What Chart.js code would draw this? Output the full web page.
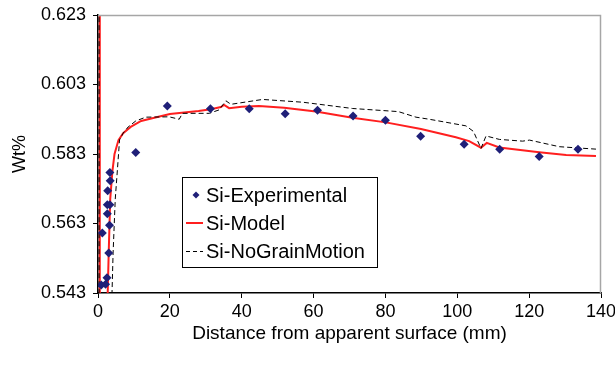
<!DOCTYPE html>
<html lang="en">
<head>
  <meta charset="UTF-8">
  <title>Si profile</title>
  <style>
    body { margin: 0; background: #fff; }
    #wrap { width: 615px; height: 366px; }
  </style>
</head>
<body>
  <div id="wrap">
    <canvas id="myChart" width="615" height="366"></canvas>
  </div>

  <script src="https://cdn.jsdelivr.net/npm/chart.js"></script>

  <script>
    // data
    const expX = [0.9, 2.1, 2.5, 3.0, 1.2, 3.2, 2.6, 2.6, 3.3, 2.7, 3.4, 3.3, 10.5, 19.3, 31.3, 42.1, 52.1, 61.1, 71.0, 80.0, 89.8, 101.9, 111.8, 122.8, 133.6];
    const expY = [0.5453, 0.5455, 0.5474, 0.5545, 0.5603, 0.5625, 0.5658, 0.5684, 0.5684, 0.5724, 0.5753, 0.5777, 0.5834, 0.5968, 0.5960, 0.5960, 0.5946, 0.5956, 0.5939, 0.5927, 0.5881, 0.5858, 0.5844, 0.5823, 0.5844];

    const modelX = [0.5, 0.5, 2.6, 2.7, 3.0, 3.4, 4.0, 4.6, 5.7, 7.0, 9.1, 12, 15.1, 20, 28, 31.4, 34.2, 35.1, 36.5, 40, 44.8, 51.8, 60.6, 70.8, 80.1, 89.9, 99.6, 103.3, 106.6, 108.2, 111.7, 122.8, 130.3, 138.6];
    const modelY = [0.65, 0.53, 0.53, 0.543, 0.5554, 0.570, 0.578, 0.583, 0.587, 0.589, 0.5908, 0.5925, 0.5933, 0.5945, 0.5954, 0.5959, 0.5965, 0.5971, 0.5962, 0.5966, 0.5968, 0.5963, 0.5952, 0.5934, 0.5921, 0.5902, 0.5878, 0.5867, 0.5848, 0.5862, 0.5849, 0.5835, 0.5827, 0.5824];

    const noGrainX = [0.3, 0.3, 3.6, 3.9, 4.2, 4.8, 5.6, 6.0, 7.0, 8.4, 10.5, 13.3, 19.8, 22.6, 23.5, 31, 33.7, 35.6, 37, 45.8, 57, 70.8, 83.6, 88.5, 92.2, 102.4, 104.5, 106.6, 108, 111.7, 118.2, 120.1, 128.4, 138.6];
    const noGrainY = [0.65, 0.53, 0.53, 0.543, 0.5545, 0.570, 0.5813, 0.5871, 0.589, 0.5908, 0.5925, 0.5936, 0.5937, 0.5930, 0.5947, 0.5947, 0.5957, 0.5983, 0.5973, 0.5987, 0.5979, 0.5961, 0.5952, 0.5936, 0.5930, 0.5911, 0.5895, 0.5846, 0.5882, 0.5872, 0.5867, 0.5870, 0.5851, 0.5844];

    const xTicks = [0, 20, 40, 60, 80, 100, 120, 140];
    const yTicks = [0.543, 0.563, 0.583, 0.603, 0.623];

    const seriesNames = ['Si-Experimental', 'Si-Model', 'Si-NoGrainMotion'];

    const toPoints = (xs, ys) => xs.map((x, i) => ({ x: x, y: ys[i] }));

    const FONT = 'Liberation Sans, Arial, sans-serif';

    // grey frame on top/right plus the boxed legend inside the plot
    const frameAndLegend = {
      id: 'frameAndLegend',
      afterDatasetsDraw(chart) {
        const { ctx, chartArea: a } = chart;
        ctx.save();
        ctx.strokeStyle = '#a6a6a6';
        ctx.lineWidth = 1.5;
        ctx.beginPath();
        ctx.moveTo(a.left, a.top + 0.5);
        ctx.lineTo(a.right - 0.5, a.top + 0.5);
        ctx.lineTo(a.right - 0.5, a.bottom);
        ctx.stroke();
        ctx.restore();
      },
      afterDraw(chart) {
        const { ctx } = chart;
        const bx = 182, by = 177, bw = 195, bh = 90;
        ctx.save();
        ctx.fillStyle = '#fff';
        ctx.fillRect(bx, by, bw, bh);
        ctx.strokeStyle = '#000';
        ctx.lineWidth = 1;
        ctx.strokeRect(bx + 0.5, by + 0.5, bw, bh);

        ctx.font = '20px ' + FONT;
        ctx.fillStyle = '#000';
        ctx.textBaseline = 'middle';
        const rows = [195, 223, 251];
        rows.forEach((ry, i) => ctx.fillText(seriesNames[i], 206, ry + 1));

        // marker
        ctx.fillStyle = '#1f1f78';
        ctx.beginPath();
        ctx.moveTo(196, rows[0] - 3.5);
        ctx.lineTo(199.5, rows[0]);
        ctx.lineTo(196, rows[0] + 3.5);
        ctx.lineTo(192.5, rows[0]);
        ctx.closePath();
        ctx.fill();

        ctx.strokeStyle = '#ff1f1f';
        ctx.lineWidth = 2;
        ctx.beginPath();
        ctx.moveTo(186, rows[1]);
        ctx.lineTo(203, rows[1]);
        ctx.stroke();

        ctx.strokeStyle = '#000';
        ctx.lineWidth = 1;
        ctx.setLineDash([4, 3]);
        ctx.beginPath();
        ctx.moveTo(186, rows[2] + 0.5);
        ctx.lineTo(203, rows[2] + 0.5);
        ctx.stroke();
        ctx.restore();
      }
    };

    const ctx = document.getElementById('myChart').getContext('2d');

    new Chart(ctx, {
      type: 'scatter',
      data: {
        datasets: [
          {
            label: seriesNames[0],
            data: toPoints(expX, expY),
            pointStyle: 'rectRot',
            pointRadius: 4.5,
            backgroundColor: '#1f1f78',
            borderColor: '#1f1f78',
            borderWidth: 0,
            showLine: false,
            order: 0
          },
          {
            label: seriesNames[1],
            data: toPoints(modelX, modelY),
            showLine: true,
            borderColor: '#ff1f1f',
            borderWidth: 2,
            pointRadius: 0,
            tension: 0,
            order: 2
          },
          {
            label: seriesNames[2],
            data: toPoints(noGrainX, noGrainY),
            showLine: true,
            borderColor: '#000',
            borderWidth: 1,
            borderDash: [5, 3],
            pointRadius: 0,
            tension: 0,
            order: 1
          }
        ]
      },
      plugins: [frameAndLegend],
      options: {
        responsive: false,
        animation: false,
        layout: { padding: { top: 15, right: 14, left: 0, bottom: 0 } },
        plugins: {
          legend: { display: false },
          tooltip: { enabled: false }
        },
        scales: {
          x: {
            type: 'linear',
            min: 0,
            max: 140,
            afterBuildTicks: (axis) => { axis.ticks = xTicks.map(v => ({ value: v })); },
            afterFit: (axis) => {
              axis.height = 73;
              axis.paddingLeft = 0;
              axis.paddingRight = 0;
            },
            ticks: {
              color: '#000',
              font: { family: FONT, size: 18 },
              padding: 3
            },
            grid: { drawOnChartArea: false, drawTicks: true, tickLength: 5, color: '#000' },
            border: { color: '#000', width: 1.5 },
            title: {
              display: true,
              text: 'Distance from apparent surface (mm)',
              color: '#000',
              font: { family: FONT, size: 19 },
              padding: { top: 0, bottom: 21 }
            }
          },
          y: {
            type: 'linear',
            min: 0.543,
            max: 0.623,
            afterBuildTicks: (axis) => { axis.ticks = yTicks.map(v => ({ value: v })); },
            afterFit: (axis) => {
              axis.width = 98;
              axis.paddingTop = 0;
              axis.paddingBottom = 0;
            },
            ticks: {
              color: '#000',
              font: { family: FONT, size: 18 },
              padding: 7,
              callback: (v) => v.toFixed(3)
            },
            grid: { drawOnChartArea: false, drawTicks: true, tickLength: 5, color: '#000' },
            border: { color: '#000', width: 1.5 },
            title: {
              display: true,
              text: 'Wt%',
              color: '#000',
              font: { family: FONT, size: 18 },
              padding: { top: 9, bottom: 0 }
            }
          }
        }
      }
    });
  </script>
</body>
</html>
